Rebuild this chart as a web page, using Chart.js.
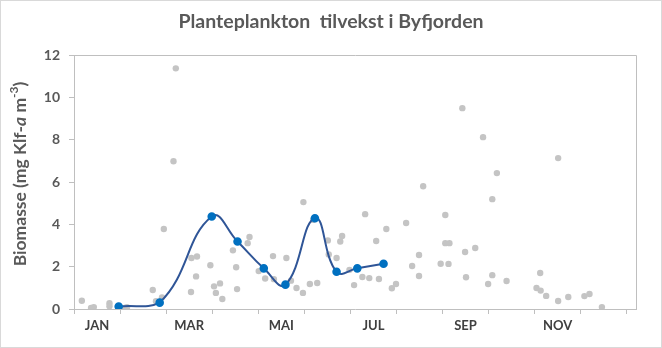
<!DOCTYPE html>
<html>
<head>
<meta charset="utf-8">
<title>Planteplankton tilvekst i Byfjorden</title>
<script src="https://cdn.jsdelivr.net/npm/chart.js@4/dist/chart.umd.min.js"></script>
<style>
  html, body { margin: 0; padding: 0; background: #fff; }
  #wrap { width: 662px; height: 348px; }
</style>
</head>
<body>
<div id="wrap"><canvas id="myChart" width="662" height="348"></canvas></div>
<script>
// alle prøver: tid i måneder fra 1. januar, biomasse i mg Klf-a per m3
const proveMaaned = [
  0.17, 0.37, 0.43, 0.77, 0.77, 1.10, 1.15, 1.71, 1.78, 1.91, 1.95, 2.16,
  2.21, 2.55, 2.67, 2.65, 2.54, 2.96, 3.04, 3.17, 3.08, 3.22, 3.45, 3.52,
  3.54, 3.77, 3.81, 4.01, 4.15, 4.32, 4.34, 4.61, 4.71, 4.83, 4.97, 4.98,
  5.12, 5.28, 5.19, 5.51, 5.53, 5.70, 5.78, 5.82, 5.98, 6.08, 6.26, 6.41,
  6.32, 6.56, 6.62, 6.78, 6.90, 6.99, 7.21, 7.34, 7.49, 7.49, 7.58, 7.96,
  8.06, 8.06, 8.15, 8.13, 8.43, 8.49, 8.51, 8.71, 8.88, 9.08, 9.18, 9.08,
  8.99, 9.39, 10.51, 10.12, 10.04, 10.13, 10.25, 10.51, 10.73, 11.08, 11.19, 11.46
];
const proveBiomasse = [
  0.39, 0.05, 0.09, 0.27, 0.13, 0.05, 0.08, 0.90, 0.37, 0.55, 3.78, 6.98,
  11.37, 2.41, 2.48, 1.54, 0.80, 2.07, 1.07, 1.21, 0.76, 0.47, 2.77, 1.97,
  0.94, 3.11, 3.40, 1.79, 1.44, 2.50, 1.41, 2.41, 1.34, 0.99, 0.76, 5.05,
  1.18, 1.23, 4.21, 3.24, 2.58, 2.41, 3.19, 3.45, 1.85, 1.13, 1.51, 1.46,
  4.48, 3.21, 1.42, 3.78, 0.98, 1.18, 4.06, 2.03, 2.55, 1.56, 5.80, 2.14,
  4.44, 3.11, 3.11, 2.13, 9.49, 2.69, 1.50, 2.88, 8.12, 5.19, 6.42, 1.60,
  1.18, 1.32, 7.13, 1.70, 0.99, 0.87, 0.62, 0.38, 0.57, 0.61, 0.71, 0.09
];

// 2019-serien som er trukket opp med linje
const serieMaaned = [0.97, 1.86, 2.99, 3.55, 4.12, 4.59, 5.23, 5.70, 6.15, 6.72];
const serieBiomasse = [0.12, 0.30, 4.37, 3.19, 1.92, 1.15, 4.29, 1.76, 1.92, 2.14];

const maanedNavn = ['JAN', 'MAR', 'MAI', 'JUL', 'SEP', 'NOV'];
const yTicks = [0, 2, 4, 6, 8, 10, 12];

const FONT = "Lato, 'Open Sans', sans-serif";
const GRA = '#bfbfbf';

function toPoints(xs, ys) {
  return xs.map((x, i) => ({ x: x, y: ys[i] }));
}

// hvit bakgrunn, ramme rundt figuren og rundt plottområdet
const rammer = {
  id: 'rammer',
  beforeDraw(chart) {
    const c = chart.ctx;
    c.save();
    c.fillStyle = '#fff';
    c.fillRect(0, 0, chart.width, chart.height);
    c.strokeStyle = '#d9d9d9';
    c.lineWidth = 1;
    c.strokeRect(0.5, 0.5, chart.width - 1, chart.height - 1);
    c.restore();
  },
  afterDatasetsDraw(chart) {
    const a = chart.chartArea;
    const c = chart.ctx;
    c.save();
    c.strokeStyle = GRA;
    c.lineWidth = 1;
    c.beginPath();
    c.moveTo(Math.round(a.left) + 0.5, Math.round(a.top) + 0.5);
    c.lineTo(Math.round(a.right) + 0.5, Math.round(a.top) + 0.5);
    c.lineTo(Math.round(a.right) + 0.5, Math.round(a.bottom) + 0.5);
    c.stroke();
    c.restore();
  }
};

// y-aksetittel med kursiv a og hevet -3
const yTittel = {
  id: 'yTittel',
  afterDraw(chart) {
    const c = chart.ctx;
    const a = chart.chartArea;
    const deler = [
      { t: 'Biomasse (mg Klf-', f: 'bold 17.5px ' + FONT, dy: 0 },
      { t: 'a', f: 'italic bold 17.5px ' + FONT, dy: 0 },
      { t: ' m', f: 'bold 17.5px ' + FONT, dy: 0 },
      { t: '-3', f: 'bold 12px ' + FONT, dy: -6 },
      { t: ')', f: 'bold 17.5px ' + FONT, dy: 0 }
    ];
    let total = 0;
    deler.forEach(d => { c.font = d.f; d.w = c.measureText(d.t).width; total += d.w; });
    c.save();
    c.translate(20, (a.top + a.bottom) / 2 - 8);
    c.rotate(-Math.PI / 2);
    c.fillStyle = '#595959';
    c.textBaseline = 'middle';
    let x = -total / 2;
    deler.forEach(d => {
      c.font = d.f;
      c.fillText(d.t, x, d.dy);
      x += d.w;
    });
    c.restore();
  }
};

let ctx = document.getElementById('myChart');
let myChart = new Chart(ctx, {
  type: 'scatter',
  data: {
    datasets: [{
      label: 'Byfjorden',
      data: toPoints(serieMaaned, serieBiomasse),
      showLine: true,
      tension: 0.45,
      borderColor: '#2f5597',
      borderWidth: 2,
      backgroundColor: '#0070c0',
      pointBackgroundColor: '#0070c0',
      pointBorderColor: '#0070c0',
      pointRadius: 3.3,
      order: 0
    }, {
      label: 'Alle prøver',
      data: toPoints(proveMaaned, proveBiomasse),
      backgroundColor: '#c4c4c4',
      borderColor: '#c4c4c4',
      pointRadius: 3.2,
      pointBorderWidth: 0,
      order: 1
    }]
  },
  options: {
    responsive: false,
    animation: false,
    layout: { padding: 0 },
    plugins: {
      legend: { display: false },
      tooltip: { enabled: false },
      title: {
        display: true,
        text: 'Planteplankton  tilvekst i Byfjorden',
        color: '#595959',
        font: { family: FONT, size: 19.5, weight: 'bold', lineHeight: 1.2 },
        padding: { top: 10, bottom: 21.6 }
      }
    },
    scales: {
      x: {
        type: 'linear',
        min: 0,
        max: 12.2,
        afterBuildTicks: s => {
          const t = [];
          for (let v = 0; v <= 12; v += 0.5) t.push({ value: v });
          s.ticks = t;
        },
        afterFit: s => { s.height = 39; },
        border: { color: GRA, width: 1 },
        grid: {
          drawOnChartArea: false,
          drawTicks: true,
          tickLength: 5,
          tickColor: c => (c.tick && c.tick.value % 1 === 0) ? GRA : 'rgba(0,0,0,0)'
        },
        ticks: {
          autoSkip: false,
          maxRotation: 0,
          padding: 4,
          color: '#404040',
          font: { family: FONT, size: 13, weight: 'bold' },
          callback: v => {
            const k = v - 0.5;
            if (k % 2 === 0) return maanedNavn[k / 2];
            return '';
          }
        }
      },
      y: {
        min: 0,
        max: 12,
        afterBuildTicks: s => { s.ticks = yTicks.map(v => ({ value: v })); },
        afterFit: s => { s.width = 74; },
        border: { color: GRA, width: 1 },
        grid: {
          drawOnChartArea: false,
          drawTicks: true,
          tickLength: 5,
          tickColor: GRA
        },
        ticks: {
          padding: 9,
          color: '#595959',
          font: { family: FONT, size: 14, weight: 'bold' }
        }
      },
      // tom akse til høyre, gir bare marg slik at tittelen står midt på figuren
      hoyre: {
        position: 'right',
        display: true,
        afterFit: s => { s.width = 26; },
        border: { display: false },
        grid: { display: false },
        ticks: { display: false }
      }
    }
  },
  plugins: [rammer, yTittel]
});
</script>
</body>
</html>
